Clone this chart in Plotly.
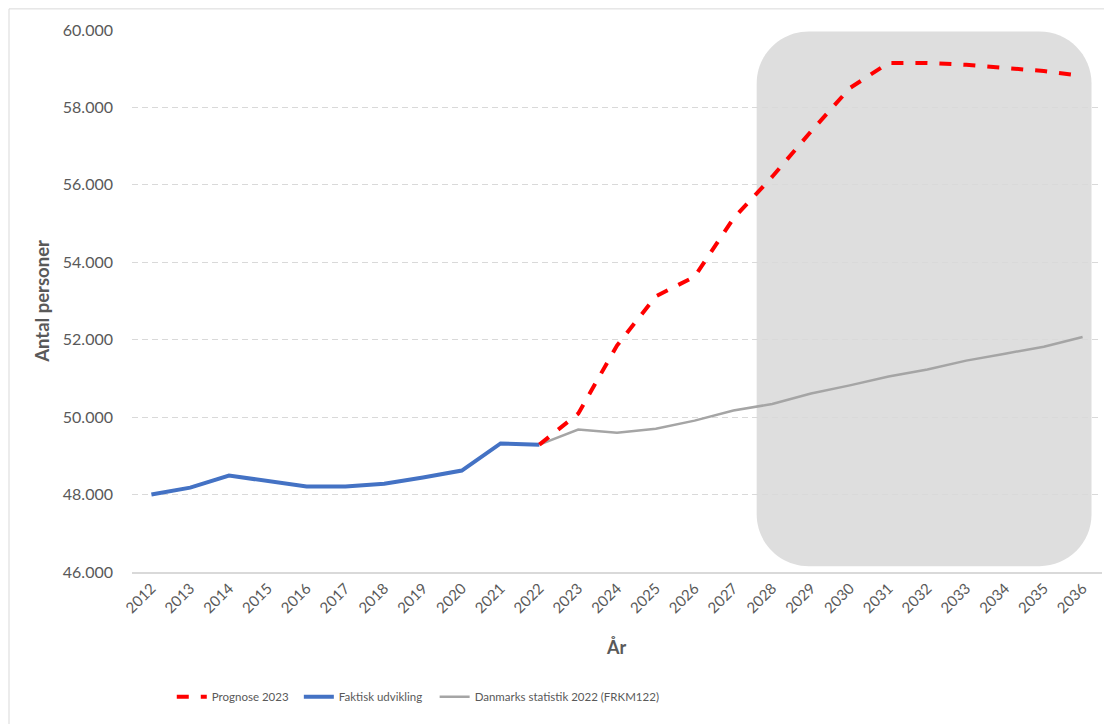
"""Befolkningsprognose 2023 vs. faktisk udvikling og Danmarks Statistik."""

import plotly.graph_objects as go

years_actual = list(range(2012, 2023))
actual = [48000, 48180, 48490, 48340, 48210, 48210, 48280, 48440, 48620, 49320, 49290]

years_forecast = list(range(2022, 2037))
forecast = [49290, 50090, 51850, 53120, 53630, 55130, 56210, 57380, 58500,
            59150, 59150, 59100, 59020, 58940, 58810]

years_dst = list(range(2022, 2037))
dst = [49290, 49680, 49600, 49700, 49910, 50170, 50340, 50610, 50820,
       51050, 51230, 51460, 51640, 51820, 52070]

y_ticks = [46000, 48000, 50000, 52000, 54000, 56000, 58000, 60000]

TXT = "#595959"
FONT = "Lato, 'Open Sans', sans-serif"

fig = go.Figure()

# blue and grey first so the red forecast sits on top
fig.add_trace(go.Scatter(
    x=years_actual, y=actual, mode="lines", name="Faktisk udvikling",
    line=dict(color="#4472c4", width=4), legend="legend2",
))
fig.add_trace(go.Scatter(
    x=years_dst, y=dst, mode="lines", name="Danmarks statistik 2022 (FRKM122)",
    line=dict(color="#a5a5a5", width=2.5), legend="legend3",
))
fig.add_trace(go.Scatter(
    x=years_forecast, y=forecast, mode="lines", name="Prognose 2023",
    line=dict(color="#ff0000", width=4, dash="dash"), legend="legend",
))

# rounded grey highlight box (data units, corners built from cubic curves)
x0, x1 = 2027.6, 2036.23
y0, y1 = 46150, 59960
rx, ry = 1.34, 1340
k = 0.5523
path = (
    f"M {x0 + rx},{y1} L {x1 - rx},{y1} "
    f"C {x1 - rx + k * rx},{y1} {x1},{y1 - ry + k * ry} {x1},{y1 - ry} "
    f"L {x1},{y0 + ry} "
    f"C {x1},{y0 + ry - k * ry} {x1 - rx + k * rx},{y0} {x1 - rx},{y0} "
    f"L {x0 + rx},{y0} "
    f"C {x0 + rx - k * rx},{y0} {x0},{y0 + ry - k * ry} {x0},{y0 + ry} "
    f"L {x0},{y1 - ry} "
    f"C {x0},{y1 - ry + k * ry} {x0 + rx - k * rx},{y1} {x0 + rx},{y1} Z"
)
fig.add_shape(type="path", path=path, xref="x", yref="y",
              fillcolor="#dedede", line_width=0, layer="below")

# outer chart border (only top and left edges fall inside the window)
fig.add_shape(type="rect", xref="paper", yref="paper",
              x0=-0.1268, x1=1.05, y0=-0.5, y1=1.039,
              line=dict(color="#d9d9d9", width=1), fillcolor="rgba(0,0,0,0)")

fig.update_xaxes(
    range=[2011.5, 2036.5], dtick=1, tickangle=-45,
    tickfont=dict(size=15, color=TXT, family=FONT),
    showgrid=False, showline=True, linecolor="#d9d9d9", linewidth=1.5,
    ticks="", zeroline=False,
)
fig.update_yaxes(
    range=[46000, 60000], tickvals=y_ticks, tickformat=",d",
    tickfont=dict(size=16, color=TXT, family=FONT),
    showgrid=True, gridcolor="#d9d9d9", griddash="6px,4px", gridwidth=1,
    showline=False, zeroline=False, ticks="", ticklen=0,
    ticklabelstandoff=18,
)

fig.add_annotation(text="<b>År</b>", xref="paper", yref="paper",
                   x=0.499, y=-0.138, xanchor="center", yanchor="middle",
                   showarrow=False,
                   font=dict(size=18, color=TXT, family=FONT))
fig.add_annotation(text="<b>Antal personer</b>", xref="paper", yref="paper",
                   x=-0.093, y=0.5, xanchor="center", yanchor="middle",
                   textangle=-90, showarrow=False,
                   font=dict(size=18.5, color=TXT, family=FONT))

legend_style = dict(orientation="h", xanchor="left", y=-0.23, yanchor="middle",
                    font=dict(size=11.5, color=TXT, family=FONT), itemwidth=30,
                    bgcolor="rgba(0,0,0,0)")

fig.update_layout(
    width=1104, height=716,
    margin=dict(l=124, r=10, t=22, b=152),
    paper_bgcolor="white", plot_bgcolor="white",
    separators=",.",
    font=dict(family=FONT, color=TXT),
    legend=dict(x=0.041, **legend_style),
    legend2=dict(x=0.172, **legend_style),
    legend3=dict(x=0.312, **legend_style),
    showlegend=True,
)

fig.write_html("out.html")
